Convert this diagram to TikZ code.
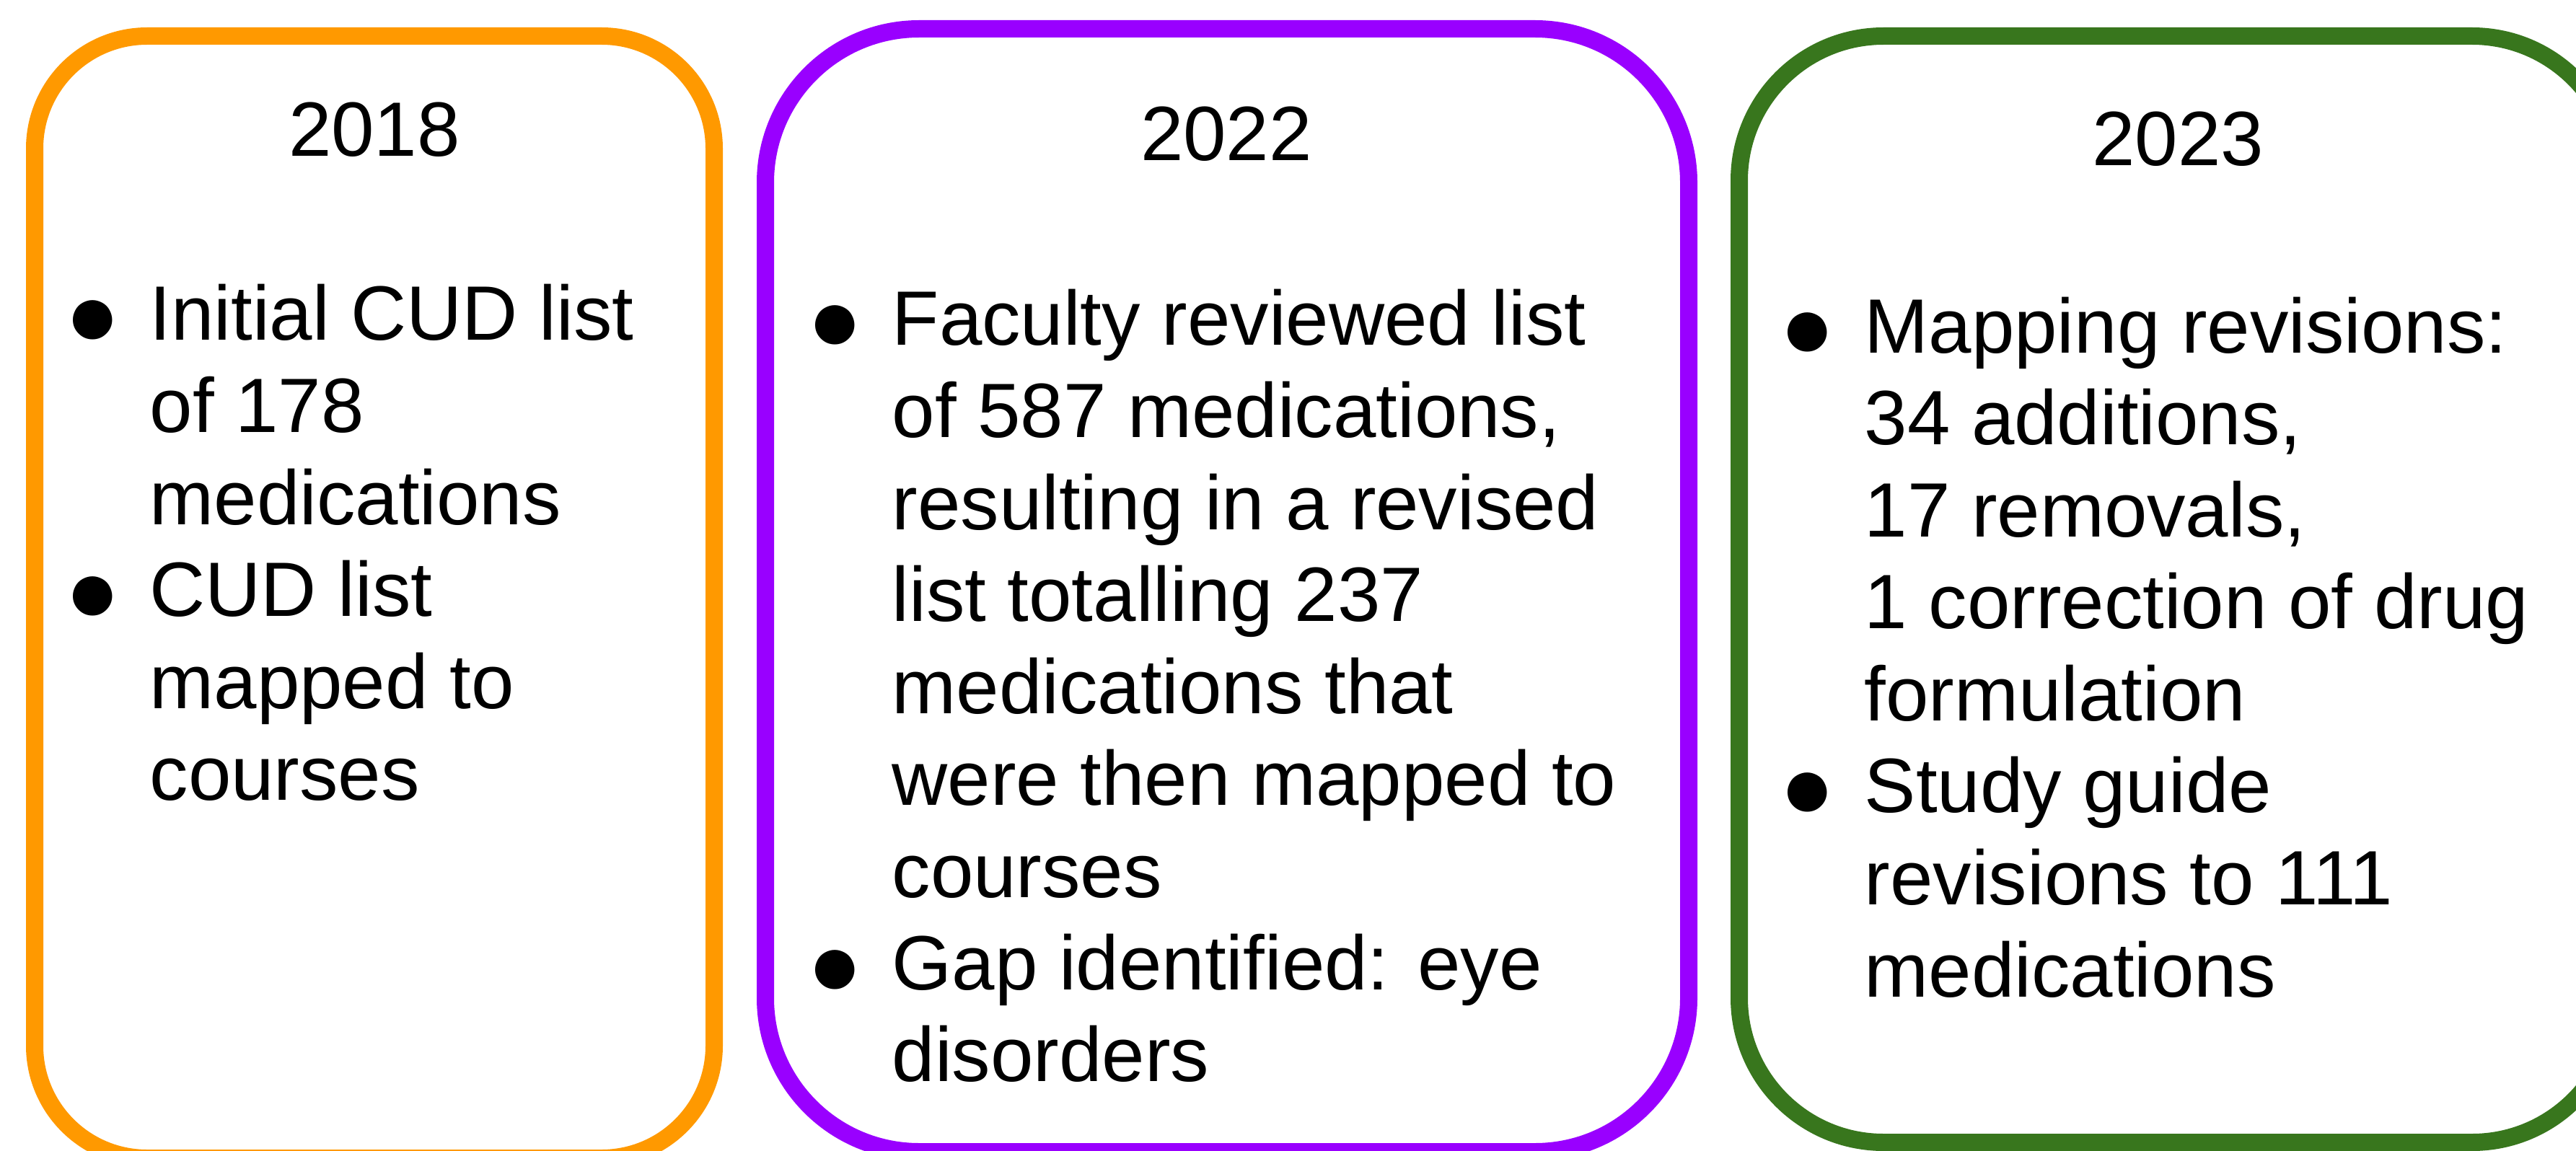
\documentclass[tikz,border=0pt]{standalone}
\usepackage{fontspec}
\setmainfont{Liberation Sans}

\definecolor{boxorange}{HTML}{FF9900}
\definecolor{boxpurple}{HTML}{9900FF}
\definecolor{boxgreen}{HTML}{38761D}

\newcommand{\itemdot}{\makebox[0.46cm]{\raisebox{-0.08cm}{\fontsize{36pt}{40pt}\selectfont ●}}}

\begin{document}
\begin{tikzpicture}[
		year box/.style={rectangle,draw,line width=0.24cm},
		year label/.style={anchor=base,inner sep=0pt},
		item list/.style={anchor=base west,inner sep=0pt},
		every node/.style={font=\fontsize{30.4pt}{36.3pt}\selectfont}]
		
		\useasboundingbox (0,0) rectangle (35.71,15.95);
		
		\node[year box,draw=boxorange,minimum width=9.42cm,minimum height=15.56cm,rounded corners=1.56cm] (1) at (5.19,7.67) {};
		\node[year box,draw=boxpurple,minimum width=12.8cm,minimum height=15.57cm,rounded corners=2.13cm] (2) at (17.01,7.765) {};
		\node[year box,draw=boxgreen,minimum width=12.16cm,minimum height=15.34cm,rounded corners=2cm] (3) at (30.19,7.78) {};
		
		\node[year label] (y1) at (5.19,13.78) {2018};
		\node[year label] (y2) at (17.0,13.72) {2022};
		\node[year label] (y3) at (30.19,13.65) {2023};
		
		\node[item list] (l1) at (1.05,11.23) {\begin{tabular}[t]{@{}l@{\hspace{0.56cm}}l@{}}
			\itemdot & Initial CUD list\\
			& of 178\\
			& medications\\
			\itemdot & CUD list\\
			& mapped to\\
			& courses
		\end{tabular}};
		\node[item list] (l2) at (11.34,11.16) {\begin{tabular}[t]{@{}l@{\hspace{0.56cm}}l@{}}
			\itemdot & Faculty reviewed list\\
			& of 587 medications,\\
			& resulting in a revised\\
			& list totalling 237\\
			& medications that\\
			& were then mapped to\\
			& courses\\
			\itemdot & Gap identified: eye\\
			& disorders
		\end{tabular}};
		\node[item list] (l3) at (24.82,11.06) {\begin{tabular}[t]{@{}l@{\hspace{0.56cm}}l@{}}
			\itemdot & Mapping revisions:\\
			& 34 additions,\\
			& 17 removals,\\
			& 1 correction of drug\\
			& formulation\\
			\itemdot & Study guide\\
			& revisions to 111\\
			& medications
		\end{tabular}};
\end{tikzpicture}
\end{document}
